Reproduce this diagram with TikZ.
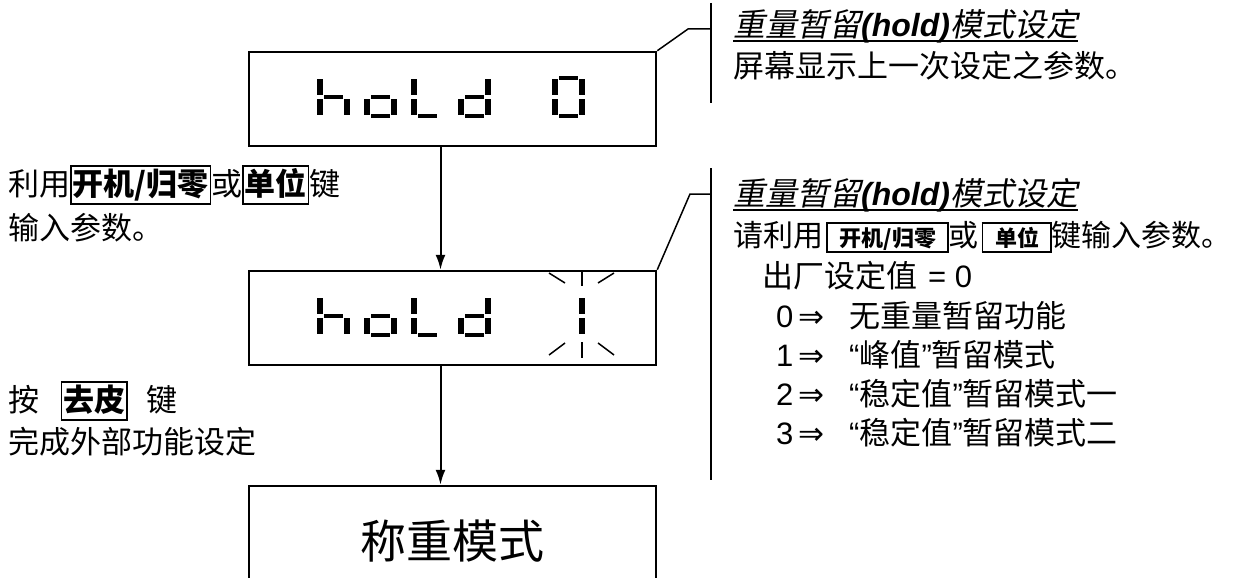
\documentclass[tikz,border=0pt]{standalone}
\usepackage{fontspec}
\setmainfont{Liberation Sans}
\newfontfamily\cjk{Noto Sans CJK SC}
\newfontfamily\cjki{Noto Sans CJK SC}[FakeSlant=0.2]
\newfontfamily\symf{DejaVu Sans}
\usetikzlibrary{arrows.meta}
\usetikzlibrary{positioning}

% key caps inside the texts
\newcommand{\keyl}[1]{{\setlength{\fboxsep}{1pt}\setlength{\fboxrule}{1.5pt}\fbox{\rule[-0.2em]{0pt}{1.1em}\bfseries #1}}}
\newcommand{\keyr}[1]{\hspace{3pt}{\setlength{\fboxsep}{0pt}\setlength{\fboxrule}{1.5pt}\fbox{\rule[-0.17em]{0pt}{0.92em}\hspace{12pt}{\bfseries\fontsize{22}{22}\selectfont #1}\hspace{11pt}}}}
\newcommand{\holdhead}{{\cjki 重量暂留}{\rmfamily\bfseries\itshape (hold)}{\cjki 模式设定}}
\newcommand{\holdopt}[2]{{\rmfamily #1}\hspace{5pt}{\symf ⇒}\hspace{0.8em}#2}
\newcommand{\qt}[1]{{\rmfamily “}#1{\rmfamily ”}}

% seven segment pieces, #1 = left edge, #2 = top edge
\newcommand{\sega}[2]{\draw[segh] (#1+4,#2) -- (#1+23,#2);}
\newcommand{\segb}[2]{\draw[segv] (#1+27,#2+1) -- (#1+27,#2+17);}
\newcommand{\segc}[2]{\draw[segv] (#1+27,#2+21) -- (#1+27,#2+37);}
\newcommand{\segd}[2]{\draw[segh] (#1+4,#2+38) -- (#1+23,#2+38);}
\newcommand{\sege}[2]{\draw[segv] (#1,#2+21) -- (#1,#2+37);}
\newcommand{\segf}[2]{\draw[segv] (#1,#2+1) -- (#1,#2+17);}
\newcommand{\segg}[2]{\draw[segh] (#1+4,#2+19) -- (#1+23,#2+19);}
\newcommand{\lcd}[3]{\foreach \s in {#3}{\csname seg\s\endcsname{#1}{#2}}}

\begin{document}
\begin{tikzpicture}[x=1pt,y=-1pt,>={Latex[length=15pt,width=10pt]}]
  \tikzset{
    display/.style={draw, line width=2.5pt, minimum width=407pt, minimum height=94pt, inner sep=0pt},
    segv/.style={line width=5.5pt},
    segh/.style={line width=4.5pt},
    blink/.style={line width=1.5pt},
    callout/.style={line width=1.5pt},
    flow/.style={->, line width=2pt},
    txt/.style={anchor=west, inner sep=0pt, font=\cjk\fontsize{31}{36}\selectfont},
    head/.style={anchor=west, inner sep=0pt, font=\cjk\fontsize{32}{36}\selectfont},
  }
  \useasboundingbox (0,0) rectangle (1242,578);

  % screens
  \node[display] (hold0) at (452.5,99) {};
  \node[display] (hold1) at (452.5,318) {};
  \node[display, minimum height=110pt, font=\cjk\fontsize{46}{46}\selectfont] (weigh) at (452.5,541) {称重模式};

  % h o L d on both screens
  \foreach \y in {78,297}{
    \lcd{320}{\y}{f,e,g,c}
    \lcd{367}{\y}{g,c,d,e}
    \lcd{414}{\y}{f,e,d}
    \lcd{461}{\y}{b,c,g,e,d}
  }
  \lcd{555}{78}{a,b,c,d,e,f}
  \lcd{555}{297}{b,c}

  % blinking marks round the 1
  \draw[blink] (582,271) -- (582,286);
  \draw[blink] (549,273) -- (565,283);
  \draw[blink] (614,273) -- (598,283);
  \draw[blink] (582,342) -- (582,358);
  \draw[blink] (549,355) -- (565,343);
  \draw[blink] (614,355) -- (598,343);

  \draw[flow] ([xshift=-12pt]hold0.south) -- ([xshift=-12pt]hold1.north);
  \draw[flow] ([xshift=-12pt]hold1.south) -- ([xshift=-12pt]weigh.north);

  % callouts
  \coordinate (bend0) at (688,29);
  \coordinate (bar0) at (711,29);
  \coordinate (bar0top) at (711,3);
  \coordinate (bar0bot) at (711,103);
  \coordinate (bend1) at (690,194);
  \coordinate (bar1) at (711,194);
  \coordinate (bar1top) at (711,168);
  \coordinate (bar1bot) at (711,480);
  \draw[callout] (hold0.north east) -- (bend0) -- (bar0);
  \draw[callout] (bar0top) -- (bar0bot);
  \draw[callout] (hold1.north east) -- (bend1) -- (bar1);
  \draw[callout] (bar1top) -- (bar1bot);

  % left side
  \node[txt] (keys) at (8,185) {利用\keyl{开机/归零}或\keyl{单位}键};
  \node[txt] (input) at (8,228) {输入参数。};
  \node[txt] (tare) at (8,401) {按\hspace{0.7em}\keyl{去皮}\hspace{0.6em}键};
  \node[txt] (done) at (8,442) {完成外部功能设定};

  % right side
  \node[head] (head0) at (733,26) {\holdhead};
  \draw[line width=1.5pt] ([yshift=-5pt]head0.base west) -- ([yshift=-5pt]head0.base east);
  \node[txt] (last) at (733,66) {屏幕显示上一次设定之参数。};

  \node[head] (head1) at (733,195) {\holdhead};
  \draw[line width=1.5pt] ([yshift=-5pt]head1.base west) -- ([yshift=-5pt]head1.base east);
  \node[txt, font=\cjk\fontsize{30}{36}\selectfont] (ask) at (733,237) {请利用\keyr{开机/归零}或\keyr{单位}键输入参数。};
  \node[txt] (factory) at (762,276) {出厂设定值\hspace{0.35em}{\rmfamily = 0}};
  \node[txt] (opt0) at (776,316) {\holdopt{0}{无重量暂留功能}};
  \node[txt] (opt1) at (776,355) {\holdopt{1}{\qt{峰值}暂留模式}};
  \node[txt] (opt2) at (776,394) {\holdopt{2}{\qt{稳定值}暂留模式一}};
  \node[txt] (opt3) at (776,433) {\holdopt{3}{\qt{稳定值}暂留模式二}};
\end{tikzpicture}
\end{document}
